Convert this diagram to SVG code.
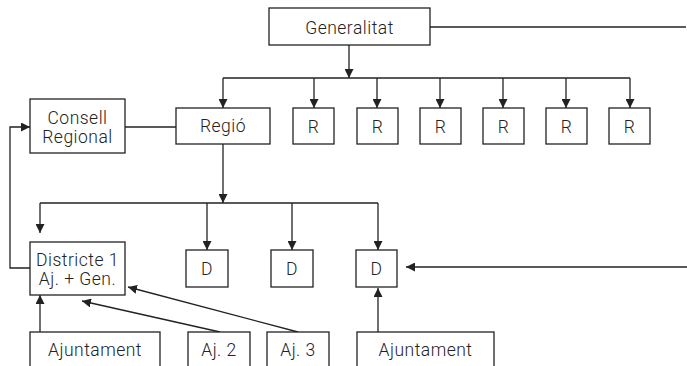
<svg xmlns="http://www.w3.org/2000/svg" width="687" height="366" viewBox="0 0 687 366">
<defs>
<marker id="ah" viewBox="0 0 10 10" refX="10" refY="5" markerWidth="9" markerHeight="9" markerUnits="userSpaceOnUse" orient="auto">
<path d="M0,0 L10,5 L0,10 z" fill="#222"/>
</marker>
</defs>
<style>
.box{fill:#fff;stroke:#222;stroke-width:1.3}
.t{font-family:Roboto,"Liberation Sans",sans-serif;font-size:17.5px;font-weight:300;letter-spacing:0.5px;fill:#222;text-anchor:middle}
.c{fill:none;stroke:#222;stroke-width:1.3}
.a{fill:none;stroke:#222;stroke-width:1.3;marker-end:url(#ah)}
</style>
<rect width="687" height="366" fill="#fff"/>
<g id="connectors">
<path class="c" d="M430,27 H686"/>
<path class="a" d="M349,45 V78"/>
<path class="c" d="M223,78 H630"/>
<path class="a" d="M223,78 V108"/>
<path class="a" d="M314,78 V108"/>
<path class="a" d="M377,78 V108"/>
<path class="a" d="M440,78 V108"/>
<path class="a" d="M503,78 V108"/>
<path class="a" d="M566,78 V108"/>
<path class="a" d="M630,78 V108"/>
<path class="c" d="M125,127 H176"/>
<path class="a" d="M30,268 H10 V127 H30"/>
<path class="a" d="M223,144 V203"/>
<path class="c" d="M40,203 H378"/>
<path class="a" d="M40,203 V233"/>
<path class="a" d="M207,203 V250"/>
<path class="a" d="M292,203 V250"/>
<path class="a" d="M378,203 V250"/>
<path class="a" d="M687,267 H406"/>
<path class="a" d="M40,332 V295"/>
<path class="a" d="M220,332 L82,301"/>
<path class="a" d="M298,332 L128,287"/>
<path class="a" d="M378,332 V288"/>
</g>
<g id="generalitat"><rect class="box" x="269" y="8" width="161" height="37"/><text class="t" x="349.5" y="33.5">Generalitat</text></g>
<g id="consell"><rect class="box" x="30" y="99" width="95" height="54"/><text class="t" x="77.5" y="124">Consell</text><text class="t" x="77.5" y="143">Regional</text></g>
<g id="regio"><rect class="box" x="176" y="108" width="94" height="36"/><text class="t" x="223" y="132">Regió</text></g>
<g id="r1"><rect class="box" x="293" y="108" width="41" height="36"/><text class="t" x="313.5" y="132.5">R</text></g>
<g id="r2"><rect class="box" x="357" y="108" width="41" height="36"/><text class="t" x="377.5" y="132.5">R</text></g>
<g id="r3"><rect class="box" x="420" y="108" width="41" height="36"/><text class="t" x="440.5" y="132.5">R</text></g>
<g id="r4"><rect class="box" x="483" y="108" width="41" height="36"/><text class="t" x="503.5" y="132.5">R</text></g>
<g id="r5"><rect class="box" x="546" y="108" width="41" height="36"/><text class="t" x="566.5" y="132.5">R</text></g>
<g id="r6"><rect class="box" x="609" y="108" width="41" height="36"/><text class="t" x="629.5" y="132.5">R</text></g>
<g id="districte"><rect class="box" x="30" y="242" width="95" height="53"/><text class="t" x="77.5" y="266">Districte 1</text><text class="t" x="77.5" y="285">Aj. + Gen.</text></g>
<g id="d1"><rect class="box" x="186" y="250" width="42" height="37"/><text class="t" x="207" y="275">D</text></g>
<g id="d2"><rect class="box" x="271" y="250" width="42" height="37"/><text class="t" x="292" y="275">D</text></g>
<g id="d3"><rect class="box" x="356" y="250" width="41" height="37"/><text class="t" x="376.5" y="275">D</text></g>
<g id="aj1"><rect class="box" x="30" y="332" width="130" height="40"/><text class="t" x="95" y="356">Ajuntament</text></g>
<g id="aj2"><rect class="box" x="188" y="332" width="62" height="40"/><text class="t" x="219" y="356">Aj. 2</text></g>
<g id="aj3"><rect class="box" x="267" y="332" width="62" height="40"/><text class="t" x="298" y="356">Aj. 3</text></g>
<g id="aj4"><rect class="box" x="357" y="332" width="137" height="40"/><text class="t" x="425.5" y="356">Ajuntament</text></g>
</svg>
